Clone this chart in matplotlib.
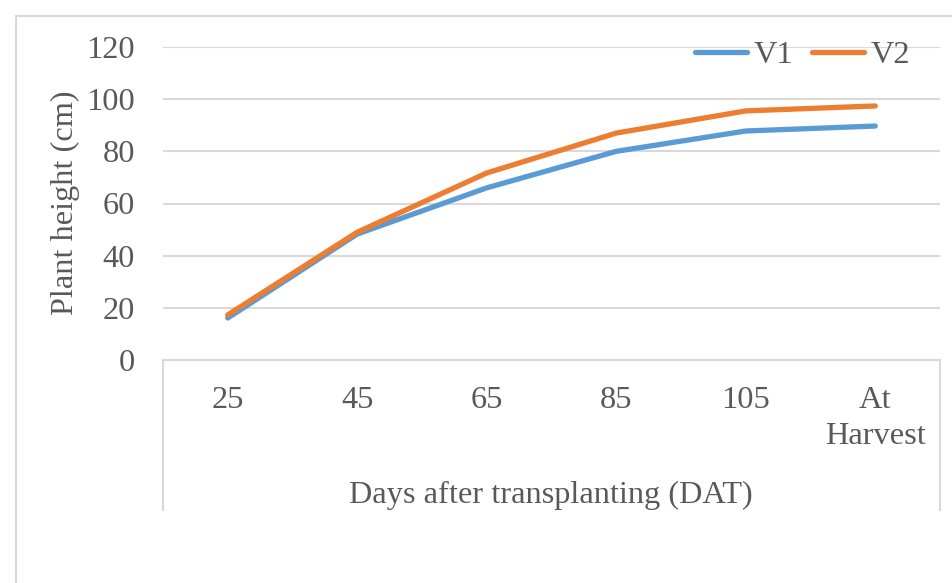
import matplotlib
matplotlib.use("Agg")
import matplotlib.pyplot as plt
from matplotlib.lines import Line2D

categories = ["25", "45", "65", "85", "105", "At\nHarvest"]
v1 = [16.1, 48.3, 66.0, 80.0, 87.8, 89.7]
v2 = [17.3, 49.0, 71.7, 87.0, 95.5, 97.4]
yticks = [0, 20, 40, 60, 80, 100, 120]

TXT = "#595959"
GRID = "#D9D9D9"
FS = 23.3
plt.rcParams["font.family"] = ["Liberation Serif", "DejaVu Serif"]

fig = plt.figure(figsize=(9.53, 5.83), dpi=100)
ax = fig.add_axes([163/953, 1-360/583, (940-163)/953, (360-47)/583])

x = list(range(len(categories)))
ax.plot(x, v1, color="#5B9BD5", lw=3.8, solid_capstyle="round", solid_joinstyle="round", label="V1", zorder=3)
ax.plot(x, v2, color="#ED7D31", lw=3.8, solid_capstyle="round", solid_joinstyle="round", label="V2", zorder=3)

ax.set_xlim(-0.5, len(categories) - 0.5)
ax.set_ylim(0, 120)
ax.set_yticks(yticks)
ax.set_yticklabels([str(t) for t in yticks], fontsize=FS, color=TXT)
ax.set_xticks(x)
ax.set_xticklabels(categories, fontsize=FS, color=TXT, linespacing=1.3)
ax.tick_params(axis="both", length=0)
ax.tick_params(axis="y", pad=20)
ax.tick_params(axis="x", pad=19)
for lab in ax.get_xticklabels():
    lab.set_verticalalignment("top")

ax.grid(axis="y", color=GRID, lw=1.5)
ax.set_axisbelow(True)
for s in ["top", "right", "left"]:
    ax.spines[s].set_visible(False)
ax.spines["bottom"].set_color(GRID)
ax.spines["bottom"].set_linewidth(1.5)

# category axis boundary lines
for xx in [-0.5, len(categories) - 0.5]:
    ax.plot([xx, xx], [0, -150/313], transform=ax.get_xaxis_transform(), color=GRID, lw=1.5, clip_on=False)

fig.text(551/953, 1-495/583, "Days after transplanting (DAT)", fontsize=FS, color=TXT, ha="center", va="center")
fig.text(65/953, 1-203/583, "Plant height (cm)", fontsize=FS, color=TXT, ha="center", va="center", rotation=90)

leg = ax.legend(loc="center right", bbox_to_anchor=(910/953, 1-55/583), bbox_transform=fig.transFigure,
                ncol=2, frameon=False, fontsize=FS, handlelength=1.6, handletextpad=0.2,
                columnspacing=0.6, borderpad=0, borderaxespad=0)
for t in leg.get_texts():
    t.set_color(TXT)

# outer chart border
fig.add_artist(Line2D([16/953, 1], [1-16/583, 1-16/583], transform=fig.transFigure, color=GRID, lw=1.5))
fig.add_artist(Line2D([16/953, 16/953], [0, 1-16/583], transform=fig.transFigure, color=GRID, lw=1.5))

fig.savefig("out.png", dpi=100, facecolor="white")
